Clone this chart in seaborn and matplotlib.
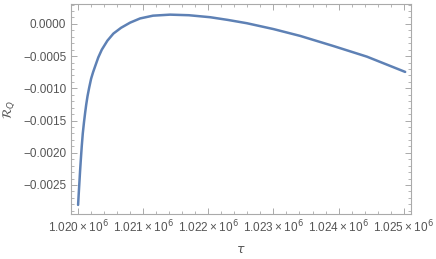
import numpy as np
import pandas as pd
import seaborn as sns
import matplotlib.pyplot as plt
from matplotlib.ticker import MultipleLocator, FuncFormatter

# values
tau = [1.020000e6, 1.020010e6, 1.020020e6, 1.020030e6, 1.020041e6, 1.020056e6,
       1.020072e6, 1.020090e6, 1.020108e6, 1.020125e6, 1.020145e6, 1.020170e6,
       1.020200e6, 1.020230e6, 1.020261e6, 1.020310e6, 1.020364e6, 1.020450e6,
       1.020542e6, 1.020660e6, 1.020799e6, 1.020952e6, 1.021150e6, 1.021413e6,
       1.021700e6, 1.022028e6, 1.022300e6, 1.022591e6, 1.023000e6, 1.023410e6,
       1.023917e6, 1.024435e6, 1.025023e6]
r_q = [-0.00281, -0.00263, -0.00246, -0.00229, -0.00212, -0.00190,
       -0.00170, -0.00153, -0.00138, -0.00125, -0.00112, -0.00099,
       -0.00085, -0.00075, -0.00066, -0.00052, -0.00040, -0.00026,
       -0.00015, -0.00006, 0.00002, 0.000085, 0.000128, 0.000144,
       0.000135, 0.000104, 0.000062, 0.000011, -0.000080, -0.000186,
       -0.000342, -0.000508, -0.000745]

df = pd.DataFrame({'tau': tau, 'rq': r_q})

sns.set_style('ticks')
plt.rcParams['font.family'] = ['Liberation Sans', 'DejaVu Sans']
plt.rcParams['mathtext.fontset'] = 'dejavusans'

fig = plt.figure(figsize=(4.36, 2.59), dpi=100)
ax = fig.add_axes([0.163, 0.174, 0.78, 0.811])

sns.lineplot(data=df, x='tau', y='rq', ax=ax, color='#5E81B5', linewidth=1.8)

ax.set_xlim(1.019892e6, 1.025115e6)
ax.set_ylim(-0.00295, 0.000311)

ax.xaxis.set_major_locator(MultipleLocator(1000))
ax.xaxis.set_minor_locator(MultipleLocator(200))
ax.yaxis.set_major_locator(MultipleLocator(0.0005))
ax.yaxis.set_minor_locator(MultipleLocator(0.0001))

ax.xaxis.set_major_formatter(FuncFormatter(lambda v, p: '%.3f\u2009\u00d7\u200910$^6$' % (v / 1e6)))
ax.yaxis.set_major_formatter(FuncFormatter(lambda v, p: ('%.4f' % v).replace('-', '\u2212')))

gray = '#555555'
for s in ax.spines.values():
    s.set_color('#aaaaaa')
    s.set_linewidth(0.8)
ax.tick_params(which='both', direction='in', top=True, right=True,
               colors='#aaaaaa', labelcolor=gray, labelsize=8.5)
ax.tick_params(which='major', length=4, width=0.7)
ax.tick_params(which='minor', length=2, width=0.6)

ax.set_xlabel('$\\tau$', color=gray, fontsize=9, labelpad=6)
ax.set_ylabel('$\\mathcal{R}_Q$', color=gray, fontsize=9, labelpad=4)

fig.savefig('out.png', dpi=100)
